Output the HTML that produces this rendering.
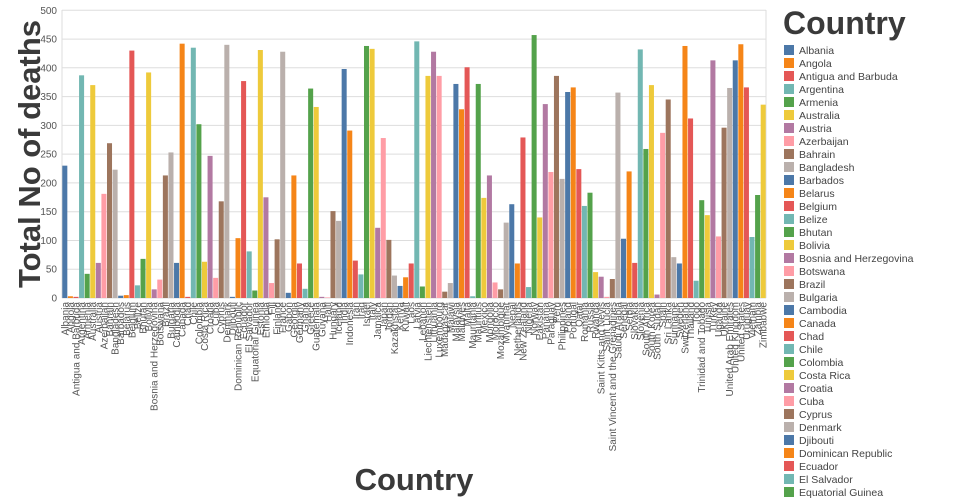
<!DOCTYPE html>
<html><head><meta charset="utf-8"><style>
html,body{margin:0;padding:0;background:#fff;}
svg{display:block;font-family:"Liberation Sans","DejaVu Sans",sans-serif;}
.c0{fill:#4c78a8}.c1{fill:#f58518}.c2{fill:#e45756}.c3{fill:#72b7b2}.c4{fill:#54a24b}.c5{fill:#eeca3b}.c6{fill:#b279a2}.c7{fill:#ff9da6}.c8{fill:#9d755d}.c9{fill:#bab0ac}
.xl text{font-size:10px;fill:#555;text-anchor:end;}
.yl text{font-size:10px;fill:#555;text-anchor:end;}
.lg text{font-size:10.5px;fill:#444;}
</style></head><body>
<svg width="960" height="500" viewBox="0 0 960 500">
<g stroke="#ddd" stroke-width="1">
<line x1="62" x2="766" y1="298" y2="298"/><line x1="62" x2="766" y1="269.2" y2="269.2"/><line x1="62" x2="766" y1="240.5" y2="240.5"/><line x1="62" x2="766" y1="211.7" y2="211.7"/><line x1="62" x2="766" y1="182.9" y2="182.9"/><line x1="62" x2="766" y1="154.1" y2="154.1"/><line x1="62" x2="766" y1="125.4" y2="125.4"/><line x1="62" x2="766" y1="96.6" y2="96.6"/><line x1="62" x2="766" y1="67.8" y2="67.8"/><line x1="62" x2="766" y1="39.1" y2="39.1"/><line x1="62" x2="766" y1="10.3" y2="10.3"/>
<line x1="62" x2="62" y1="10" y2="298"/><line x1="766" x2="766" y1="10" y2="298"/>
</g>
<g class="yl">
<text x="57" y="301.5">0</text><text x="57" y="272.7">50</text><text x="57" y="244">100</text><text x="57" y="215.2">150</text><text x="57" y="186.4">200</text><text x="57" y="157.6">250</text><text x="57" y="128.9">300</text><text x="57" y="100.1">350</text><text x="57" y="71.3">400</text><text x="57" y="42.6">450</text><text x="57" y="13.8">500</text>
</g>
<g transform="translate(62.3,298) scale(5.587,-0.5754)">
<rect class="c0" x="0" width="0.9" height="230"/><rect class="c1" x="1" width="0.9" height="3"/><rect class="c2" x="2" width="0.9" height="2"/><rect class="c3" x="3" width="0.9" height="387"/><rect class="c4" x="4" width="0.9" height="42"/><rect class="c5" x="5" width="0.9" height="370"/><rect class="c6" x="6" width="0.9" height="61"/><rect class="c7" x="7" width="0.9" height="181"/><rect class="c8" x="8" width="0.9" height="269"/><rect class="c9" x="9" width="0.9" height="223"/>
<rect class="c0" x="10" width="0.9" height="4"/><rect class="c1" x="11" width="0.9" height="5"/><rect class="c2" x="12" width="0.9" height="430"/><rect class="c3" x="13" width="0.9" height="22"/><rect class="c4" x="14" width="0.9" height="68"/><rect class="c5" x="15" width="0.9" height="392"/><rect class="c6" x="16" width="0.9" height="15"/><rect class="c7" x="17" width="0.9" height="32"/><rect class="c8" x="18" width="0.9" height="213"/><rect class="c9" x="19" width="0.9" height="253"/>
<rect class="c0" x="20" width="0.9" height="61"/><rect class="c1" x="21" width="0.9" height="442"/><rect class="c2" x="22" width="0.9" height="2"/><rect class="c3" x="23" width="0.9" height="435"/><rect class="c4" x="24" width="0.9" height="302"/><rect class="c5" x="25" width="0.9" height="63"/><rect class="c6" x="26" width="0.9" height="247"/><rect class="c7" x="27" width="0.9" height="35"/><rect class="c8" x="28" width="0.9" height="168"/><rect class="c9" x="29" width="0.9" height="440"/>
<rect class="c0" x="30" width="0.9" height="2"/><rect class="c1" x="31" width="0.9" height="104"/><rect class="c2" x="32" width="0.9" height="377"/><rect class="c3" x="33" width="0.9" height="81"/><rect class="c4" x="34" width="0.9" height="13"/><rect class="c5" x="35" width="0.9" height="431"/><rect class="c6" x="36" width="0.9" height="175"/><rect class="c7" x="37" width="0.9" height="26"/><rect class="c8" x="38" width="0.9" height="102"/><rect class="c9" x="39" width="0.9" height="428"/>
<rect class="c0" x="40" width="0.9" height="9"/><rect class="c1" x="41" width="0.9" height="213"/><rect class="c2" x="42" width="0.9" height="60"/><rect class="c3" x="43" width="0.9" height="16"/><rect class="c4" x="44" width="0.9" height="364"/><rect class="c5" x="45" width="0.9" height="332"/><rect class="c6" x="46" width="0.9" height="2"/><rect class="c7" x="47" width="0.9" height="1"/><rect class="c8" x="48" width="0.9" height="151"/><rect class="c9" x="49" width="0.9" height="134"/>
<rect class="c0" x="50" width="0.9" height="398"/><rect class="c1" x="51" width="0.9" height="291"/><rect class="c2" x="52" width="0.9" height="65"/><rect class="c3" x="53" width="0.9" height="41"/><rect class="c4" x="54" width="0.9" height="438"/><rect class="c5" x="55" width="0.9" height="433"/><rect class="c6" x="56" width="0.9" height="122"/><rect class="c7" x="57" width="0.9" height="278"/><rect class="c8" x="58" width="0.9" height="101"/><rect class="c9" x="59" width="0.9" height="39"/>
<rect class="c0" x="60" width="0.9" height="21"/><rect class="c1" x="61" width="0.9" height="36"/><rect class="c2" x="62" width="0.9" height="60"/><rect class="c3" x="63" width="0.9" height="446"/><rect class="c4" x="64" width="0.9" height="20"/><rect class="c5" x="65" width="0.9" height="386"/><rect class="c6" x="66" width="0.9" height="428"/><rect class="c7" x="67" width="0.9" height="386"/><rect class="c8" x="68" width="0.9" height="11"/><rect class="c9" x="69" width="0.9" height="26"/>
<rect class="c0" x="70" width="0.9" height="372"/><rect class="c1" x="71" width="0.9" height="328"/><rect class="c2" x="72" width="0.9" height="401"/><rect class="c3" x="73" width="0.9" height="3"/><rect class="c4" x="74" width="0.9" height="372"/><rect class="c5" x="75" width="0.9" height="174"/><rect class="c6" x="76" width="0.9" height="213"/><rect class="c7" x="77" width="0.9" height="27"/><rect class="c8" x="78" width="0.9" height="15"/><rect class="c9" x="79" width="0.9" height="131"/>
<rect class="c0" x="80" width="0.9" height="163"/><rect class="c1" x="81" width="0.9" height="60"/><rect class="c2" x="82" width="0.9" height="279"/><rect class="c3" x="83" width="0.9" height="19"/><rect class="c4" x="84" width="0.9" height="457"/><rect class="c5" x="85" width="0.9" height="140"/><rect class="c6" x="86" width="0.9" height="337"/><rect class="c7" x="87" width="0.9" height="219"/><rect class="c8" x="88" width="0.9" height="386"/><rect class="c9" x="89" width="0.9" height="207"/>
<rect class="c0" x="90" width="0.9" height="358"/><rect class="c1" x="91" width="0.9" height="366"/><rect class="c2" x="92" width="0.9" height="224"/><rect class="c3" x="93" width="0.9" height="160"/><rect class="c4" x="94" width="0.9" height="183"/><rect class="c5" x="95" width="0.9" height="45"/><rect class="c6" x="96" width="0.9" height="37"/><rect class="c7" x="97" width="0.9" height="2"/><rect class="c8" x="98" width="0.9" height="33"/><rect class="c9" x="99" width="0.9" height="357"/>
<rect class="c0" x="100" width="0.9" height="103"/><rect class="c1" x="101" width="0.9" height="220"/><rect class="c2" x="102" width="0.9" height="61"/><rect class="c3" x="103" width="0.9" height="432"/><rect class="c4" x="104" width="0.9" height="259"/><rect class="c5" x="105" width="0.9" height="370"/><rect class="c6" x="106" width="0.9" height="6"/><rect class="c7" x="107" width="0.9" height="287"/><rect class="c8" x="108" width="0.9" height="345"/><rect class="c9" x="109" width="0.9" height="71"/>
<rect class="c0" x="110" width="0.9" height="60"/><rect class="c1" x="111" width="0.9" height="438"/><rect class="c2" x="112" width="0.9" height="312"/><rect class="c3" x="113" width="0.9" height="30"/><rect class="c4" x="114" width="0.9" height="170"/><rect class="c5" x="115" width="0.9" height="144"/><rect class="c6" x="116" width="0.9" height="413"/><rect class="c7" x="117" width="0.9" height="107"/><rect class="c8" x="118" width="0.9" height="296"/><rect class="c9" x="119" width="0.9" height="365"/>
<rect class="c0" x="120" width="0.9" height="413"/><rect class="c1" x="121" width="0.9" height="441"/><rect class="c2" x="122" width="0.9" height="366"/><rect class="c3" x="123" width="0.9" height="106"/><rect class="c4" x="124" width="0.9" height="179"/><rect class="c5" x="125" width="0.9" height="336"/>
</g>
<g class="xl" transform="translate(62,302) rotate(-90)">
<text y="6.3">Albania</text><text y="11.9">Angola</text><text y="17.5">Antigua and Barbuda</text><text y="23.1">Argentina</text><text y="28.6">Armenia</text><text y="34.2">Australia</text><text y="39.8">Austria</text><text y="45.4">Azerbaijan</text><text y="51.0">Bahrain</text><text y="56.6">Bangladesh</text>
<text y="62.2">Barbados</text><text y="67.8">Belarus</text><text y="73.3">Belgium</text><text y="78.9">Belize</text><text y="84.5">Bhutan</text><text y="90.1">Bolivia</text><text y="95.7">Bosnia and Herzegovina</text><text y="101.3">Botswana</text><text y="106.9">Brazil</text><text y="112.5">Bulgaria</text>
<text y="118.0">Cambodia</text><text y="123.6">Canada</text><text y="129.2">Chad</text><text y="134.8">Chile</text><text y="140.4">Colombia</text><text y="146.0">Costa Rica</text><text y="151.6">Croatia</text><text y="157.1">Cuba</text><text y="162.7">Cyprus</text><text y="168.3">Denmark</text>
<text y="173.9">Djibouti</text><text y="179.5">Dominican Republic</text><text y="185.1">Ecuador</text><text y="190.7">El Salvador</text><text y="196.3">Equatorial Guinea</text><text y="201.8">Estonia</text><text y="207.4">Ethiopia</text><text y="213.0">Fiji</text><text y="218.6">Finland</text><text y="224.2">France</text>
<text y="229.8">Gabon</text><text y="235.4">Georgia</text><text y="241.0">Germany</text><text y="246.5">Ghana</text><text y="252.1">Greece</text><text y="257.7">Guatemala</text><text y="263.3">Guyana</text><text y="268.9">Haiti</text><text y="274.5">Hungary</text><text y="280.1">Iceland</text>
<text y="285.7">India</text><text y="291.2">Indonesia</text><text y="296.8">Iran</text><text y="302.4">Iraq</text><text y="308.0">Israel</text><text y="313.6">Italy</text><text y="319.2">Jamaica</text><text y="324.8">Japan</text><text y="330.3">Jordan</text><text y="335.9">Kazakhstan</text>
<text y="341.5">Kenya</text><text y="347.1">Kuwait</text><text y="352.7">Laos</text><text y="358.3">Latvia</text><text y="363.9">Lebanon</text><text y="369.5">Liechtenstein</text><text y="375.0">Lithuania</text><text y="380.6">Luxembourg</text><text y="386.2">Madagascar</text><text y="391.8">Malawi</text>
<text y="397.4">Malaysia</text><text y="403.0">Maldives</text><text y="408.6">Malta</text><text y="414.2">Mauritania</text><text y="419.7">Mauritius</text><text y="425.3">Mexico</text><text y="430.9">Mongolia</text><text y="436.5">Morocco</text><text y="442.1">Mozambique</text><text y="447.7">Myanmar</text>
<text y="453.3">Nepal</text><text y="458.8">Netherlands</text><text y="464.4">New Zealand</text><text y="470.0">Nigeria</text><text y="475.6">Norway</text><text y="481.2">Pakistan</text><text y="486.8">Panama</text><text y="492.4">Paraguay</text><text y="498.0">Peru</text><text y="503.5">Philippines</text>
<text y="509.1">Poland</text><text y="514.7">Portugal</text><text y="520.3">Qatar</text><text y="525.9">Romania</text><text y="531.5">Russia</text><text y="537.1">Rwanda</text><text y="542.6">Saint Kitts and Nevis</text><text y="548.2">Saint Lucia</text><text y="553.8">Saint Vincent and the Grenadines</text><text y="559.4">Saudi Arabia</text>
<text y="565.0">Senegal</text><text y="570.6">Serbia</text><text y="576.2">Slovakia</text><text y="581.8">Slovenia</text><text y="587.3">South Africa</text><text y="592.9">South Korea</text><text y="598.5">South Sudan</text><text y="604.1">Spain</text><text y="609.7">Sri Lanka</text><text y="615.3">Suriname</text>
<text y="620.9">Sweden</text><text y="626.4">Switzerland</text><text y="632.0">Thailand</text><text y="637.6">Togo</text><text y="643.2">Trinidad and Tobago</text><text y="648.8">Tunisia</text><text y="654.4">Turkey</text><text y="660.0">Uganda</text><text y="665.6">Ukraine</text><text y="671.1">United Arab Emirates</text>
<text y="676.7">United Kingdom</text><text y="682.3">United States</text><text y="687.9">Uruguay</text><text y="693.5">Vietnam</text><text y="699.1">Zambia</text><text y="704.7">Zimbabwe</text>
</g>
<text x="414" y="490" text-anchor="middle" font-size="31" font-weight="bold" fill="#3a3a3a">Country</text>
<text transform="translate(40,154) rotate(-90)" text-anchor="middle" font-size="31" font-weight="bold" fill="#3a3a3a">Total No of deaths</text>
<text x="783" y="34" font-size="32" font-weight="bold" fill="#3a3a3a">Country</text>
<g class="lg">
<rect class="c0" x="784" y="45" width="10" height="10"/><text x="799" y="54">Albania</text>
<rect class="c1" x="784" y="58" width="10" height="10"/><text x="799" y="67">Angola</text>
<rect class="c2" x="784" y="71" width="10" height="10"/><text x="799" y="80">Antigua and Barbuda</text>
<rect class="c3" x="784" y="84" width="10" height="10"/><text x="799" y="93">Argentina</text>
<rect class="c4" x="784" y="97" width="10" height="10"/><text x="799" y="106">Armenia</text>
<rect class="c5" x="784" y="110" width="10" height="10"/><text x="799" y="119">Australia</text>
<rect class="c6" x="784" y="123" width="10" height="10"/><text x="799" y="132">Austria</text>
<rect class="c7" x="784" y="136" width="10" height="10"/><text x="799" y="145">Azerbaijan</text>
<rect class="c8" x="784" y="149" width="10" height="10"/><text x="799" y="158">Bahrain</text>
<rect class="c9" x="784" y="162" width="10" height="10"/><text x="799" y="171">Bangladesh</text>
<rect class="c0" x="784" y="175" width="10" height="10"/><text x="799" y="184">Barbados</text>
<rect class="c1" x="784" y="188" width="10" height="10"/><text x="799" y="197">Belarus</text>
<rect class="c2" x="784" y="201" width="10" height="10"/><text x="799" y="210">Belgium</text>
<rect class="c3" x="784" y="214" width="10" height="10"/><text x="799" y="223">Belize</text>
<rect class="c4" x="784" y="227" width="10" height="10"/><text x="799" y="236">Bhutan</text>
<rect class="c5" x="784" y="240" width="10" height="10"/><text x="799" y="249">Bolivia</text>
<rect class="c6" x="784" y="253" width="10" height="10"/><text x="799" y="262">Bosnia and Herzegovina</text>
<rect class="c7" x="784" y="266" width="10" height="10"/><text x="799" y="275">Botswana</text>
<rect class="c8" x="784" y="279" width="10" height="10"/><text x="799" y="288">Brazil</text>
<rect class="c9" x="784" y="292" width="10" height="10"/><text x="799" y="301">Bulgaria</text>
<rect class="c0" x="784" y="305" width="10" height="10"/><text x="799" y="314">Cambodia</text>
<rect class="c1" x="784" y="318" width="10" height="10"/><text x="799" y="327">Canada</text>
<rect class="c2" x="784" y="331" width="10" height="10"/><text x="799" y="340">Chad</text>
<rect class="c3" x="784" y="344" width="10" height="10"/><text x="799" y="353">Chile</text>
<rect class="c4" x="784" y="357" width="10" height="10"/><text x="799" y="366">Colombia</text>
<rect class="c5" x="784" y="370" width="10" height="10"/><text x="799" y="379">Costa Rica</text>
<rect class="c6" x="784" y="383" width="10" height="10"/><text x="799" y="392">Croatia</text>
<rect class="c7" x="784" y="396" width="10" height="10"/><text x="799" y="405">Cuba</text>
<rect class="c8" x="784" y="409" width="10" height="10"/><text x="799" y="418">Cyprus</text>
<rect class="c9" x="784" y="422" width="10" height="10"/><text x="799" y="431">Denmark</text>
<rect class="c0" x="784" y="435" width="10" height="10"/><text x="799" y="444">Djibouti</text>
<rect class="c1" x="784" y="448" width="10" height="10"/><text x="799" y="457">Dominican Republic</text>
<rect class="c2" x="784" y="461" width="10" height="10"/><text x="799" y="470">Ecuador</text>
<rect class="c3" x="784" y="474" width="10" height="10"/><text x="799" y="483">El Salvador</text>
<rect class="c4" x="784" y="487" width="10" height="10"/><text x="799" y="496">Equatorial Guinea</text>
</g>
</svg>
</body></html>
